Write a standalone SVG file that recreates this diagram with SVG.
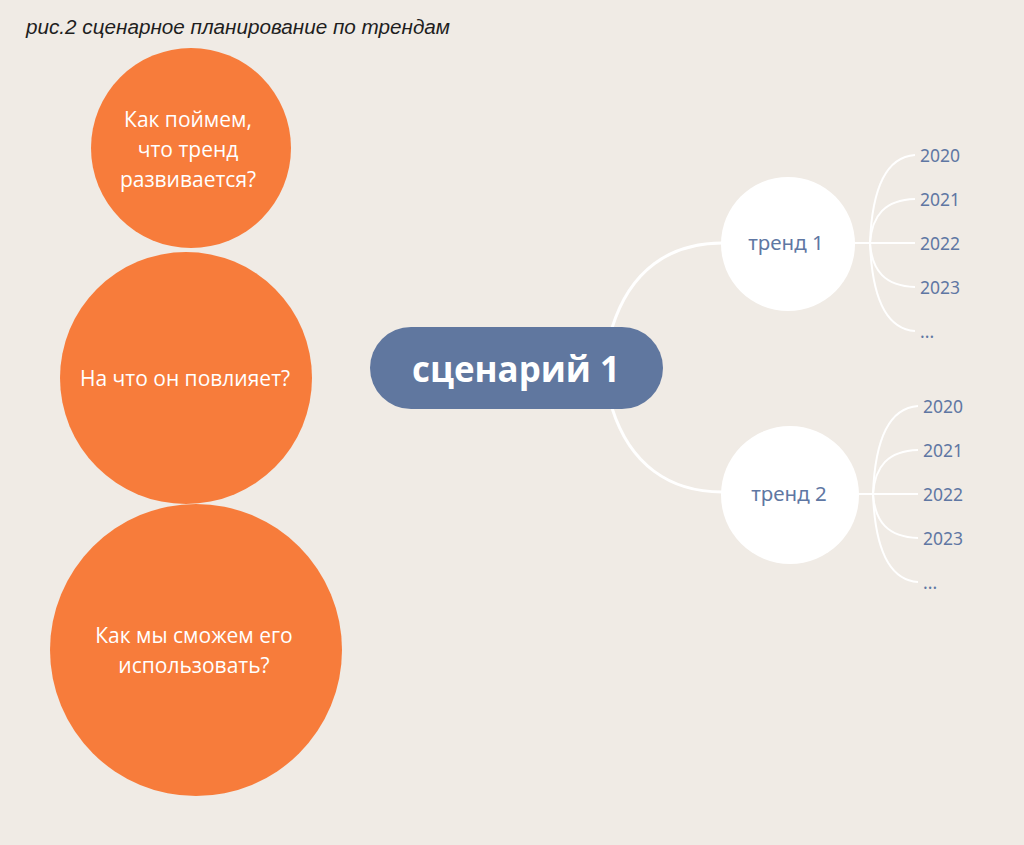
<svg xmlns="http://www.w3.org/2000/svg" width="1024" height="845" viewBox="0 0 1024 845">
<style>
.bg{fill:#f0ebe5}
.q{fill:#f77c3b}
.qt{fill:#ffffff;font-family:"Open Sans","Noto Sans",sans-serif;font-size:21px;text-anchor:middle}
.tr{fill:#ffffff}
.trt{fill:#5f77a3;font-family:"Noto Sans","Open Sans",sans-serif;font-size:20.5px;text-anchor:middle}
.yr{fill:#5f77a3;font-family:"Noto Sans","Open Sans",sans-serif;font-size:17.5px}
.c{fill:none;stroke:#ffffff;stroke-width:3}
.cf{fill:none;stroke:#ffffff;stroke-width:2}
</style>
<rect class="bg" x="0" y="0" width="1024" height="845"/>
<text x="26" y="34" font-family="Liberation Sans,Arial,sans-serif" font-style="italic" font-size="20" fill="#1e1e1e" textLength="424" lengthAdjust="spacingAndGlyphs">рис.2 сценарное планирование по трендам</text>
<g id="connectors">
<path class="c" d="M612 328 C630 270 670 243 722 243"/>
<path class="c" d="M612 408 C630 465 670 492 722 492"/>
<path class="cf" d="M855 243 H870"/>
<path class="cf" d="M870 243 C872 190 885 157 915 155"/>
<path class="cf" d="M870 243 C872 215 885 200 915 199"/>
<path class="cf" d="M870 243 H915"/>
<path class="cf" d="M870 243 C872 271 885 286 915 287"/>
<path class="cf" d="M870 243 C872 296 885 329 915 331"/>
<path class="cf" d="M858 494 H873"/>
<path class="cf" d="M873 494 C875 441 888 408 918 406"/>
<path class="cf" d="M873 494 C875 466 888 451 918 450"/>
<path class="cf" d="M873 494 H918"/>
<path class="cf" d="M873 494 C875 522 888 537 918 538"/>
<path class="cf" d="M873 494 C875 547 888 580 918 582"/>
</g>
<g id="q1">
<circle class="q" cx="191" cy="148" r="100"/>
<text class="qt" x="188" y="127">Как поймем,</text>
<text class="qt" x="188" y="157">что тренд</text>
<text class="qt" x="188" y="187">развивается?</text>
</g>
<g id="q2">
<circle class="q" cx="186" cy="378" r="126"/>
<text class="qt" x="185" y="386">На что он повлияет?</text>
</g>
<g id="q3">
<circle class="q" cx="196" cy="650" r="146"/>
<text class="qt" x="194" y="643">Как мы сможем его</text>
<text class="qt" x="194" y="673">использовать?</text>
</g>
<g id="scenario">
<rect x="370" y="327" width="293" height="82" rx="41" fill="#60779f"/>
<text x="516" y="382" font-family="Open Sans,Noto Sans,sans-serif" font-weight="bold" font-size="35" fill="#ffffff" text-anchor="middle" textLength="208" lengthAdjust="spacingAndGlyphs">сценарий 1</text>
</g>
<g id="trend1">
<circle class="tr" cx="788" cy="244" r="67"/>
<text class="trt" x="786" y="250">тренд 1</text>
</g>
<g id="trend2">
<circle class="tr" cx="790" cy="495" r="69"/>
<text class="trt" x="789" y="501">тренд 2</text>
</g>
<g id="years1">
<text class="yr" x="920" y="162">2020</text>
<text class="yr" x="920" y="206">2021</text>
<text class="yr" x="920" y="250">2022</text>
<text class="yr" x="920" y="294">2023</text>
<text class="yr" x="920" y="338">...</text>
</g>
<g id="years2">
<text class="yr" x="923" y="413">2020</text>
<text class="yr" x="923" y="457">2021</text>
<text class="yr" x="923" y="501">2022</text>
<text class="yr" x="923" y="545">2023</text>
<text class="yr" x="923" y="589">...</text>
</g>
</svg>
